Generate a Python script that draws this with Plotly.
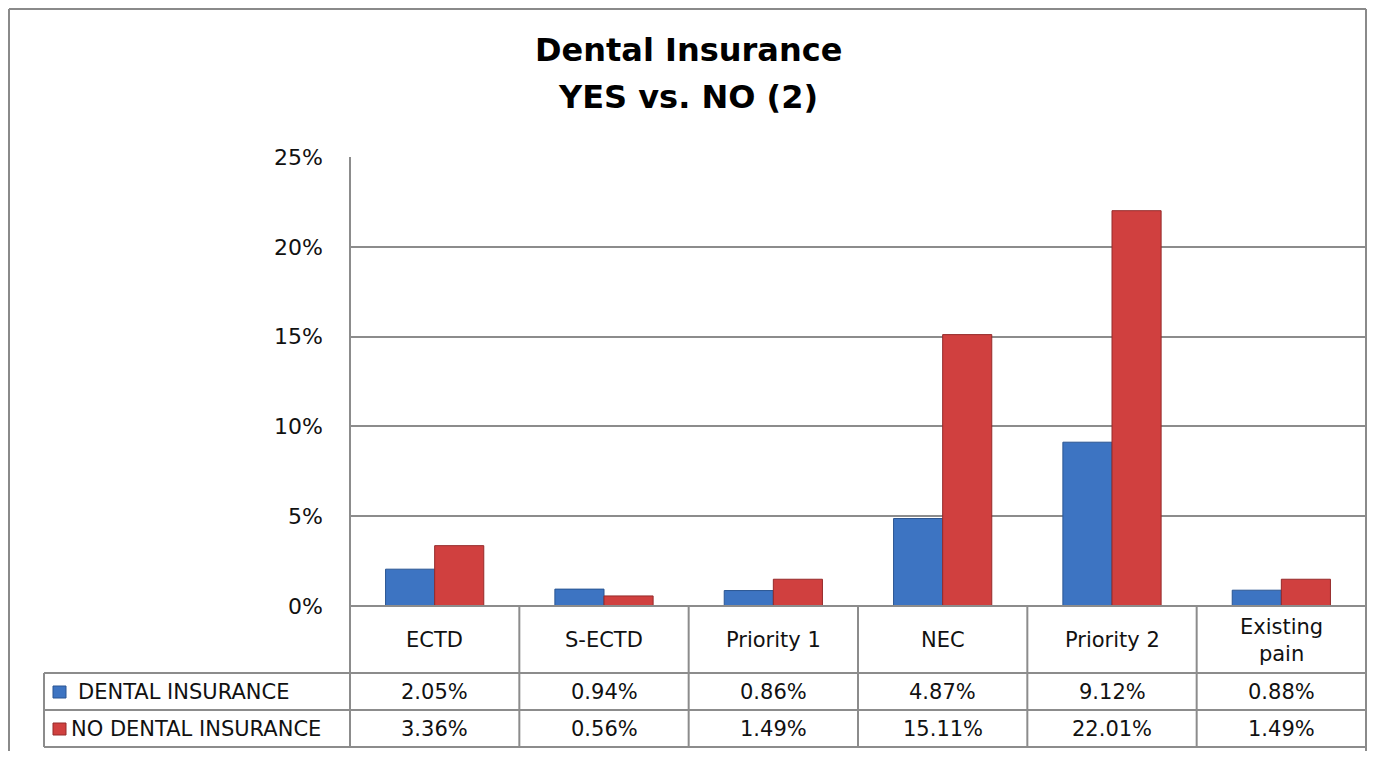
import plotly.graph_objects as go

categories = ["ECTD", "S-ECTD", "Priority 1", "NEC", "Priority 2", "Existing<br>pain"]
series_names = ["DENTAL INSURANCE", "NO DENTAL INSURANCE"]
dental_insurance = [0.0205, 0.0094, 0.0086, 0.0487, 0.0912, 0.0088]
no_dental_insurance = [0.0336, 0.0056, 0.0149, 0.1511, 0.2201, 0.0149]
value_labels_yes = ["2.05%", "0.94%", "0.86%", "4.87%", "9.12%", "0.88%"]
value_labels_no = ["3.36%", "0.56%", "1.49%", "15.11%", "22.01%", "1.49%"]
title_lines = ["Dental Insurance", "YES vs. NO (2)"]

OFF = 8  # page body margin in the browser
W, H = 1359, 743
# plot area in screen pixels
SL, SR, ST, SB = 350, 1366, 157, 606
L, R, T, B = SL - OFF, SR - OFF, ST - OFF, SB - OFF

def px(sx):
    return (sx - SL) / (SR - SL)

def py(sy):
    return (SB - sy) / (SB - ST)

FONT = "DejaVu Sans"
GRID = "#8c8c8c"
blue, blue_edge = "#3d74c2", "#2a5592"
red, red_edge = "#d0403f", "#952a2a"

n = len(categories)
xs = list(range(n))

fig = go.Figure()
fig.add_trace(go.Bar(x=xs, y=dental_insurance, name=series_names[0],
                     marker=dict(color=blue, line=dict(color=blue_edge, width=1))))
fig.add_trace(go.Bar(x=xs, y=no_dental_insurance, name=series_names[1],
                     marker=dict(color=red, line=dict(color=red_edge, width=1))))

shapes = []
# outer chart border (left, top, right)
bc = dict(color="#8a8a8a", width=2)
shapes.append(dict(type="line", xref="paper", yref="paper",
                   x0=px(9), x1=px(9), y0=py(800), y1=py(9), line=bc))
shapes.append(dict(type="line", xref="paper", yref="paper",
                   x0=px(9), x1=px(1366), y0=py(9), y1=py(9), line=bc))
shapes.append(dict(type="line", xref="paper", yref="paper",
                   x0=px(1366), x1=px(1366), y0=py(800), y1=py(9), line=bc))
# table horizontal lines
row_y = [606, 673, 710, 747]
for i, yy in enumerate(row_y):
    x0 = SL if i == 0 else 44
    shapes.append(dict(type="line", xref="paper", yref="paper",
                       x0=px(x0), x1=px(SR), y0=py(yy), y1=py(yy),
                       line=dict(color=GRID, width=2)))
# vertical lines: plot left edge down through table
shapes.append(dict(type="line", xref="paper", yref="paper",
                   x0=0, x1=0, y0=py(747), y1=py(ST), line=dict(color=GRID, width=2)))
shapes.append(dict(type="line", xref="paper", yref="paper",
                   x0=px(44), x1=px(44), y0=py(747), y1=py(673), line=dict(color=GRID, width=2)))
for k in range(1, n):
    shapes.append(dict(type="line", xref="x", yref="paper",
                       x0=k - 0.5, x1=k - 0.5, y0=py(747), y1=py(606),
                       line=dict(color=GRID, width=2)))
# legend keys
shapes.append(dict(type="rect", xref="paper", yref="paper",
                   x0=px(53), x1=px(66), y0=py(698), y1=py(686),
                   fillcolor=blue, line=dict(color=blue_edge, width=1)))
shapes.append(dict(type="rect", xref="paper", yref="paper",
                   x0=px(53), x1=px(66), y0=py(735), y1=py(723),
                   fillcolor=red, line=dict(color=red_edge, width=1)))

ann = []
for txt, yy in zip(title_lines, [50, 97]):
    ann.append(dict(text="<b>%s</b>" % txt, xref="paper", yref="paper",
                    x=px(688), y=py(yy), xanchor="center", yanchor="middle",
                    showarrow=False, font=dict(family=FONT, size=32, color="#000")))
tfont = dict(family=FONT, size=21, color="#111")
for i, c in enumerate(categories):
    ann.append(dict(text=c, xref="x", yref="paper", x=i, y=py(640),
                    xanchor="center", yanchor="middle", showarrow=False, font=tfont))
    ann.append(dict(text=value_labels_yes[i], xref="x", yref="paper", x=i, y=py(692),
                    xanchor="center", yanchor="middle", showarrow=False, font=tfont))
    ann.append(dict(text=value_labels_no[i], xref="x", yref="paper", x=i, y=py(729),
                    xanchor="center", yanchor="middle", showarrow=False, font=tfont))
ann.append(dict(text=series_names[0], xref="paper", yref="paper", x=px(76), y=py(692),
                xanchor="left", yanchor="middle", showarrow=False, font=tfont))
ann.append(dict(text=series_names[1], xref="paper", yref="paper", x=px(69), y=py(729),
                xanchor="left", yanchor="middle", showarrow=False, font=tfont))

fig.update_layout(
    width=W, height=H,
    margin=dict(l=L, r=W - R, t=T, b=H - B, pad=0),
    paper_bgcolor="white", plot_bgcolor="white",
    barmode="group", bargap=0.42, bargroupgap=0,
    showlegend=False,
    shapes=shapes, annotations=ann,
    xaxis=dict(range=[-0.5, n - 0.5], showticklabels=False, showgrid=False,
               zeroline=False, showline=False, ticks=""),
    yaxis=dict(range=[0, 0.25], dtick=0.05, tickformat=".0%", showgrid=True,
               gridcolor=GRID, gridwidth=2, zeroline=False, showline=False,
               ticks="", ticklabelstandoff=26,
               tickfont=dict(family=FONT, size=22, color="#111")),
    font=dict(family=FONT),
)

fig.write_html("out.html")
